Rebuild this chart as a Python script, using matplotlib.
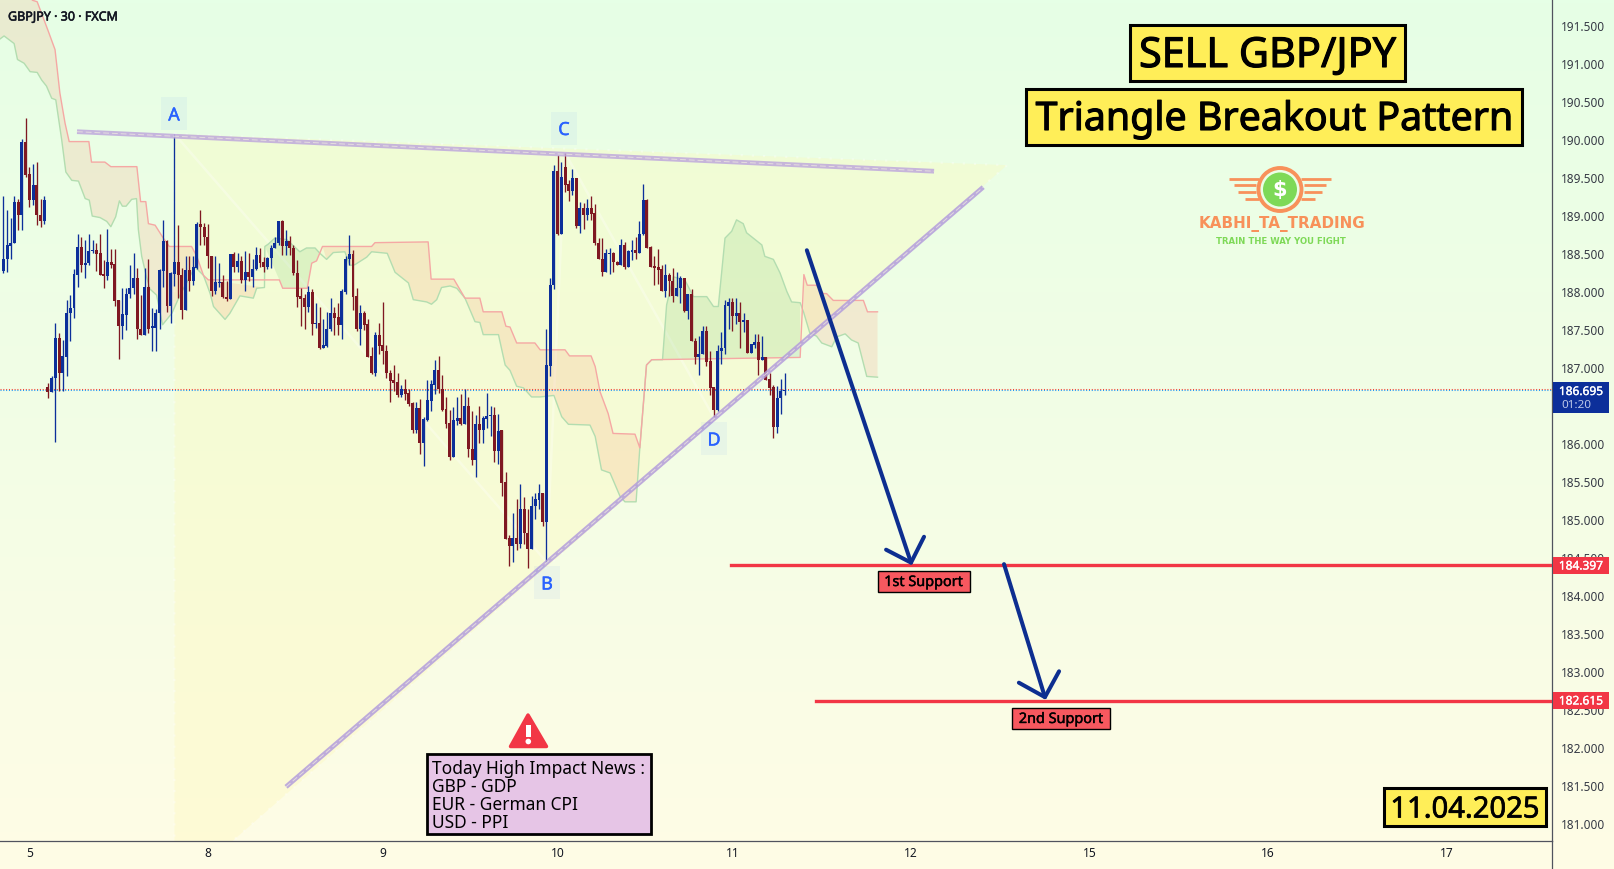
import numpy as np
import matplotlib
matplotlib.use("Agg")
import matplotlib.pyplot as plt
import matplotlib.patheffects as pe
from matplotlib.colors import LinearSegmentedColormap
from matplotlib.patches import Rectangle, Circle, Polygon
from matplotlib.transforms import ScaledTranslation

plt.rcParams['font.family'] = ['Noto Sans', 'DejaVu Sans']

# candles, blue = up, red = down
candle_open = [
    188.27,188.43,188.60,188.64,189.18,189.00,189.96,189.54,189.20,189.40,
    189.00,188.92,186.74,186.68,186.86,187.38,186.93,187.14,187.72,187.78,
    188.22,188.58,188.35,188.37,188.53,188.54,188.50,188.23,188.20,188.39,
    188.36,187.89,187.54,187.69,187.97,188.04,188.18,187.51,187.43,188.05,
    187.52,187.52,187.71,188.27,188.66,187.80,188.23,188.38,188.21,187.75,
    188.28,188.13,188.31,188.89,188.84,188.71,188.46,188.00,188.11,188.12,
    187.93,187.90,188.49,188.32,188.40,188.15,188.25,188.19,188.29,188.48,
    188.39,188.32,188.44,188.57,188.63,188.92,188.60,188.66,188.57,188.24,
    187.94,187.91,187.79,187.99,187.57,187.58,187.25,187.28,187.50,187.71,
    187.66,187.56,187.99,188.43,188.49,187.94,187.50,187.71,187.57,187.15,
    186.93,187.43,187.29,187.21,186.93,186.83,186.80,186.63,186.71,186.66,
    186.53,186.18,186.47,186.01,186.31,186.56,186.77,186.96,186.72,186.45,
    186.27,185.82,186.30,186.33,186.26,186.49,185.93,185.78,186.26,186.18,
    186.32,186.36,186.37,185.90,186.17,185.49,184.75,184.65,184.76,184.68,
    185.14,184.82,184.61,185.17,185.25,185.34,184.97,187.02,188.08,189.58,
    188.76,189.63,189.41,189.32,189.49,188.86,189.09,189.01,189.09,189.03,
    188.63,188.43,188.26,188.49,188.50,188.38,188.35,188.61,188.32,188.52,
    188.54,188.51,188.75,189.20,188.58,188.33,188.32,188.29,188.00,188.21,
    188.14,187.94,188.04,188.18,187.74,187.97,187.34,187.13,187.18,187.48,
    187.08,186.74,186.44,187.21,187.26,187.81,187.86,187.67,187.71,187.59,
    187.62,187.19,187.29,187.33,187.10,187.14,186.84,186.74,186.22,186.59,186.69]
candle_close = [
    188.43,188.61,188.64,189.18,189.00,189.96,189.53,189.20,189.40,189.00,
    188.92,189.20,186.68,186.86,187.38,186.93,187.15,187.72,187.78,188.23,
    188.58,188.35,188.37,188.53,188.54,188.49,188.21,188.20,188.39,188.35,
    187.87,187.54,187.70,187.97,188.04,188.18,187.50,187.43,188.05,187.51,
    187.54,187.71,188.28,188.66,187.80,188.24,188.38,188.21,187.75,188.28,
    188.13,188.32,188.89,188.84,188.71,188.46,188.00,188.12,188.12,187.92,
    187.90,188.49,188.32,188.40,188.15,188.25,188.19,188.29,188.48,188.37,
    188.32,188.44,188.57,188.63,188.92,188.60,188.66,188.57,188.24,187.93,
    187.90,187.79,187.99,187.57,187.58,187.25,187.29,187.51,187.71,187.65,
    187.56,188.00,188.43,188.49,187.93,187.51,187.71,187.56,187.14,186.93,
    187.43,187.28,187.21,186.93,186.82,186.79,186.63,186.71,186.65,186.52,
    186.18,186.47,186.01,186.32,186.57,186.78,186.96,186.72,186.44,186.26,
    185.82,186.31,186.33,186.26,186.49,185.93,185.78,186.26,186.18,186.33,
    186.36,186.37,185.90,186.16,185.48,184.74,184.65,184.76,184.68,185.14,
    184.82,184.61,185.18,185.27,185.34,184.97,187.03,188.08,189.58,188.75,
    189.51,189.40,189.32,189.49,188.86,189.09,189.01,189.09,189.02,188.63,
    188.43,188.26,188.50,188.50,188.38,188.35,188.61,188.32,188.53,188.54,
    188.51,188.76,189.20,188.57,188.32,188.31,188.28,188.00,188.21,188.13,
    187.94,188.04,188.17,187.74,187.97,187.34,187.13,187.18,187.48,187.07,
    186.73,186.44,187.21,187.26,187.82,187.86,187.67,187.71,187.60,187.62,
    187.19,187.30,187.33,187.10,187.14,186.83,186.73,186.22,186.59,186.69,186.70]
candle_high = [
    189.25,189.07,188.96,189.25,189.22,190.01,190.28,189.64,189.68,189.70,
    189.22,189.25,186.79,186.88,187.58,187.45,187.36,187.89,187.95,188.29,
    188.76,188.71,188.68,188.75,188.68,188.63,188.76,188.41,188.82,188.56,
    188.55,187.89,188.04,188.04,188.35,188.50,188.30,187.95,188.30,188.43,
    187.78,187.77,188.29,188.94,188.68,188.26,190.07,188.87,188.30,188.46,
    188.46,188.46,188.91,189.07,188.90,188.89,188.46,188.46,188.37,188.22,
    188.13,188.49,188.52,188.51,188.46,188.53,188.50,188.42,188.58,188.57,
    188.45,188.45,188.61,188.71,188.92,188.94,188.81,188.73,188.61,188.41,
    188.04,187.97,188.07,188.03,187.84,187.79,187.63,187.73,187.91,187.79,
    187.84,188.03,188.46,188.74,188.54,188.04,187.82,187.74,187.64,187.27,
    187.47,187.58,187.86,187.29,186.97,187.03,186.92,186.77,186.85,186.72,
    186.55,186.55,186.58,186.35,186.83,186.83,187.10,187.15,186.90,186.61,
    186.44,186.48,186.61,186.65,186.71,186.61,186.42,186.37,186.49,186.36,
    186.66,186.49,186.48,186.39,186.17,185.62,184.80,185.08,185.27,185.47,
    185.30,185.14,185.31,185.34,185.46,185.35,187.51,188.18,189.66,189.79,
    189.70,189.82,189.46,189.61,189.49,189.18,189.16,189.22,189.25,189.15,
    188.70,188.70,188.56,188.57,188.52,188.40,188.69,188.65,188.54,188.68,
    188.71,188.93,189.41,189.21,188.59,188.46,188.56,188.35,188.36,188.24,
    188.30,188.25,188.20,188.18,187.97,188.03,187.39,187.41,187.54,187.54,
    187.21,186.74,187.29,187.47,187.89,187.91,187.91,187.91,187.86,187.72,
    187.62,187.30,187.44,187.44,187.41,187.14,186.92,186.77,186.75,186.85,186.92]
candle_low = [
    188.24,188.26,188.42,188.63,188.81,188.80,189.51,189.11,189.14,188.87,
    188.84,188.89,186.60,186.68,186.02,186.69,186.69,186.88,187.34,187.65,
    188.06,188.26,188.18,188.35,188.50,188.27,188.21,188.04,188.15,188.31,
    187.81,187.11,187.37,187.49,187.91,187.97,187.37,187.42,187.43,187.45,
    187.21,187.21,187.51,188.06,187.73,187.58,188.07,187.91,187.64,187.75,
    188.00,188.08,188.29,188.61,188.61,188.31,187.94,187.97,188.05,187.91,
    187.87,187.90,188.25,188.26,188.11,188.01,188.14,188.06,188.28,188.32,
    188.26,188.29,188.30,188.57,188.61,188.48,188.48,188.48,188.21,187.79,
    187.54,187.51,187.73,187.42,187.52,187.24,187.25,187.27,187.48,187.43,
    187.43,187.37,187.96,188.35,187.75,187.48,187.29,187.49,187.13,186.91,
    186.88,187.18,187.05,186.86,186.54,186.69,186.61,186.61,186.57,186.49,
    186.14,186.13,185.86,185.70,186.29,186.42,186.65,186.66,186.42,186.20,
    185.78,185.82,186.24,186.24,186.25,185.82,185.71,185.56,186.00,186.00,
    186.20,186.09,185.76,185.73,185.31,184.74,184.39,184.44,184.59,184.62,
    184.68,184.36,184.61,185.00,185.14,184.91,184.44,186.88,188.03,188.74,
    188.76,189.31,189.19,189.27,188.83,188.77,188.82,188.94,188.94,188.61,
    188.43,188.20,188.25,188.23,188.26,188.35,188.35,188.29,188.32,188.41,
    188.42,188.51,188.74,188.57,188.32,188.08,188.10,188.00,187.93,187.94,
    187.86,187.94,187.85,187.73,187.64,187.34,187.04,186.90,187.18,187.02,
    186.64,186.34,186.42,187.04,187.18,187.50,187.48,187.57,187.26,187.46,
    187.19,187.19,187.26,186.90,187.10,186.83,186.63,186.07,186.13,186.39,186.64]

# ichimoku cloud edges: bar number, price
span_a_x = [-0.9,0.2,2.9,3.8,5.6,7.2,9.1,10.3,11.6,13.0,14.1,15.7,16.8,18.4,20.2,22.0,23.1,23.9,26.0,27.8,
            28.9,30.2,31.2,32.0,33.0,34.5,35.8,36.3,37.2,38.5,39.4,41.2,42.8,45.3,47.5,51.5,53.8,55.6,56.5,59.6,
            60.9,63.6,67.2,68.1,70.2,70.3,71.2,73.0,76.2,79.7,81.5,83.8,85.1,86.9,88.7,91.8,93.2,94.5,97.7,99.0,
            103.2,105.3,108.9,110.2,113.8,115.1,116.5,117.8,120.1,121.9,124.1,126.8,128.1,129.0,133.1,134.9,136.2,138.0,139.8,142.0,
            144.3,148.0,150.1,151.9,157.7,159.1,160.8,163.1,165.8,167.1,170.1,171.1,172.9,174.3,177.2,178.3,180.1,183.2,185.5,189.1,
            190.9,192.2,194.0,195.8,197.1,198.9,199.8,203.9,204.7,207.0,208.8,210.6,211.9,214.2,215.1,216.8,218.6,220.0,222.7,224.0,
            226.3,228.0,229.8,232.1,235.0]
span_a_y = [191.32,191.36,191.26,191.05,191.00,190.89,190.88,190.78,190.70,190.54,190.52,189.99,189.57,189.46,189.45,189.22,189.20,188.99,188.97,188.92,
            188.85,188.98,189.19,189.12,189.12,189.21,189.22,188.81,188.46,188.19,188.03,187.95,187.56,187.71,187.95,188.32,188.21,187.97,187.80,187.63,
            187.71,187.94,187.91,188.04,188.05,188.59,188.62,188.70,188.68,188.52,188.57,188.57,188.50,188.42,188.51,188.52,188.34,188.35,188.45,188.52,
            188.50,188.25,188.11,187.89,187.86,187.83,187.89,188.05,188.07,188.04,187.91,187.60,187.59,187.43,187.43,187.03,186.96,186.75,186.73,186.61,
            186.61,186.63,186.35,186.25,186.24,186.09,185.65,185.61,185.30,185.23,185.23,185.94,187.03,187.10,187.10,187.82,188.19,188.15,187.93,187.93,
            187.80,187.80,188.70,188.79,188.94,188.89,188.77,188.61,188.46,188.42,188.24,188.00,187.86,187.85,187.73,187.45,187.41,187.32,187.27,187.40,
            187.44,187.36,187.32,186.88,186.87]
span_b_x = [-0.9,6.7,7.8,9.1,12.1,13.9,15.2,16.6,17.7,23.0,23.7,27.3,28.9,35.9,36.9,38.3,39.0,40.8,43.0,44.6,
            50.6,52.0,53.8,55.1,74.2,75.1,81.7,82.9,84.2,85.8,99.0,99.9,114.2,115.0,121.1,124.1,128.1,129.0,134.0,135.1,
            136.2,138.0,142.9,144.3,151.0,152.2,158.0,159.1,160.4,162.6,163.9,169.8,171.1,172.9,174.3,214.2,215.2,216.1,218.6,220.4,
            221.3,223.1,231.2,232.3,235.0]
span_b_y = [192.00,191.96,191.83,191.81,191.42,191.18,190.61,190.21,189.97,189.97,189.70,189.70,189.64,189.64,189.18,189.18,188.89,188.87,188.70,188.59,
            188.59,188.46,188.21,188.15,188.15,188.04,188.04,188.37,188.40,188.59,188.59,188.64,188.65,188.16,188.16,187.91,187.91,187.73,187.73,187.54,
            187.53,187.32,187.32,187.23,187.23,187.15,187.15,187.01,186.68,186.39,186.13,186.12,185.94,187.03,187.10,187.13,188.22,188.08,188.08,187.97,
            187.97,187.88,187.88,187.73,187.73]
# (from bar, to bar, colour)
cloud_parts = [(-1, 70.25, '#FF7043'), (70.25, 85.3, '#4CAF50'), (85.3, 171.2, '#FF7043'),
               (171.0, 214.7, '#4CAF50'), (214.7, 236, '#FF7043')]

# 186.500 sits behind the blue price tag in the reference
price_ticks = [181.0,181.5,182.0,182.5,183.0,183.5,184.0,184.5,185.0,185.5,186.0,
               187.0,187.5,188.0,188.5,189.0,189.5,190.0,190.5,191.0,191.5]
day_ticks = [7, 55, 102, 149, 196, 244, 292, 340, 388]
day_labels = ['5', '8', '9', '10', '11', '12', '15', '16', '17']

# drawings
top_line_x = [19.8, 250.2]
top_line_y = [190.10, 189.58]
low_line_x = [76, 263.4]
low_line_y = [181.48, 189.37]
pattern_x = [46, 269.8, 46]
pattern_y = [190.07, 189.66, 180.1]
zig_x = [46, 146, 151, 191]
zig_y = [190.07, 184.44, 189.82, 186.34]
support_1 = 184.397
support_2 = 182.615
support_1_from = 195.6
support_2_from = 218.5
last_price = 186.695
prev_close = 186.72
arrow_1_x = [216, 244]
arrow_1_y = [188.54, 184.43]
head_1_x = [237.3, 244, 247.5]
head_1_y = [184.60, 184.43, 184.77]
arrow_2_x = [269, 280]
arrow_2_y = [184.41, 182.66]
head_2_x = [273, 280, 283.8]
head_2_y = [182.85, 182.66, 183.00]

W, H = 1614, 869
AX_R, AX_B = 1552, 841
BLUE = '#0C2F9A'
RED = '#7F1822'
TAG_RED = '#F23645'

fig = plt.figure(figsize=(W / 100, H / 100), dpi=100)

# page background gradient
bg = fig.add_axes([0, 0, 1, 1], zorder=0)
cmap = LinearSegmentedColormap.from_list('bg', ['#E6FFE6', '#FFFCE5'])
bg.imshow(np.linspace(0, 1, 256)[:, None], aspect='auto', cmap=cmap, extent=[0, 1, 0, 1])
bg.axis('off')

ax = fig.add_axes([0, (H - AX_B) / H, AX_R / W, AX_B / H], zorder=1)
ax.patch.set_alpha(0)
ax.set_xlim((0 - 3.33) / 3.72, (AX_R - 3.33) / 3.72)
ax.set_ylim(187 - (AX_B - 367.3) / 76, 187 + 367.3 / 76)

# triangle pattern shading
ax.add_patch(Polygon(np.column_stack([pattern_x, pattern_y]), closed=True, fc='#FFF8B0', ec='none', alpha=0.3, zorder=1))
ax.plot(pattern_x + pattern_x[:1], pattern_y + pattern_y[:1], color='white', lw=1.6, ls=(0, (1, 4)), alpha=0.35, zorder=1.2)
ax.plot(zig_x, zig_y, color='white', lw=1.8, alpha=0.3, zorder=1.2)

# cloud
a_x, a_y = np.array(span_a_x), np.array(span_a_y)
b_x, b_y = np.array(span_b_x), np.array(span_b_y)
for x0, x1, col in cloud_parts:
    ma = (a_x >= x0) & (a_x <= x1)
    mb = (b_x >= x0) & (b_x <= x1)
    ax.fill(np.r_[a_x[ma], b_x[mb][::-1]], np.r_[a_y[ma], b_y[mb][::-1]], color=col, alpha=0.13, lw=0, zorder=2)
ax.plot(a_x, a_y, color='#B3DDB0', lw=1.0, zorder=2.2)
ax.plot(b_x, b_y, color='#F5A8A4', lw=1.0, zorder=2.2)

# last price / prev close lines
ax.axhline(prev_close, color='#F44336', lw=0.75, ls=(0, (1, 1.7)), zorder=2.4)
ax.axhline(last_price, color='#2196F3', lw=0.75, ls=(0, (1, 1.7)), zorder=2.4)

# candles
o = np.array(candle_open)
c = np.array(candle_close)
bars = np.arange(len(o))
cols = [BLUE if c[i] >= o[i] else RED for i in bars]
ax.vlines(bars, candle_low, candle_high, colors=cols, lw=0.95, zorder=3)
ax.bar(bars, np.maximum(np.abs(c - o), 0.012), bottom=np.minimum(o, c), width=0.8, color=cols, lw=0, zorder=3.1)

# trend lines
for xs, ys, col in [(top_line_x, top_line_y, '#BFA9DC'), (low_line_x, low_line_y, '#B39DDB')]:
    ax.plot(xs, ys, color=col, lw=3.4, alpha=0.85, solid_capstyle='butt', zorder=4)
    ax.plot(xs, ys, color='#F2EEE0', lw=0.7, ls=(0, (6, 3)), alpha=0.7, zorder=4.1)

# support levels
ax.plot([support_1_from, ax.get_xlim()[1]], [support_1, support_1], color=TAG_RED, lw=2.4, zorder=4.5)
ax.plot([support_2_from, ax.get_xlim()[1]], [support_2, support_2], color=TAG_RED, lw=2.4, zorder=4.5)

# arrows
for xs, ys in [(arrow_1_x, arrow_1_y), (head_1_x, head_1_y), (arrow_2_x, arrow_2_y), (head_2_x, head_2_y)]:
    ax.plot(xs, ys, color='#0D2E90', lw=2.9, solid_capstyle='round', solid_joinstyle='round', zorder=5)

# axes
ax.yaxis.tick_right()
ax.set_yticks(price_ticks)
ax.set_yticklabels(['%.3f' % p for p in price_ticks], color='#363A45', fontsize=8.5)
ax.set_xticks(day_ticks)
ax.set_xticklabels(day_labels, color='#131722', fontsize=8.6)
ax.tick_params(axis='y', length=0, pad=6.5)
ax.tick_params(axis='x', length=0, pad=4.5)
shift = ScaledTranslation(0, -1 / 100, fig.dpi_scale_trans)
for lab in ax.get_yticklabels():
    lab.set_transform(lab.get_transform() + shift)
for s in ['top', 'left']:
    ax.spines[s].set_visible(False)
for s in ['right', 'bottom']:
    ax.spines[s].set_color('#50535E')
    ax.spines[s].set_linewidth(0.9)

# overlay in pixels for boxes and logo
ov = fig.add_axes([0, 0, 1, 1], zorder=2)
ov.set_xlim(0, W)
ov.set_ylim(H, 0)
ov.axis('off')
ov.patch.set_alpha(0)
ov.plot([AX_R, AX_R], [AX_B, H], color='#50535E', lw=0.9)

ov.text(8, 17, 'GBPJPY · 30 · FXCM', fontsize=9, color='#131722', va='center', ha='left',
        path_effects=[pe.withStroke(linewidth=0.4, foreground='#131722')])


def box(x0, y0, x1, y1, fc, ec='black', lw=2.2):
    ov.add_patch(Rectangle((x0, y0), x1 - x0, y1 - y0, fc=fc, ec=ec, lw=lw, zorder=5))


def heavy(w):
    return [pe.withStroke(linewidth=w, foreground='black')]


# title boxes
box(1130, 25, 1405, 81, '#FFEE58')
ov.text(1267.5, 56, 'SELL GBP/JPY', fontsize=29.8, ha='center', va='center', color='black', zorder=6, path_effects=heavy(0.8))
box(1026, 89, 1522, 145, '#FFEE58')
ov.text(1274, 120, 'Triangle Breakout Pattern', fontsize=28.3, ha='center', va='center', color='black', zorder=6, path_effects=heavy(0.8))
box(1384, 788, 1546, 826, '#FFEE58')
ov.text(1465, 810, '11.04.2025', fontsize=21, ha='center', va='center', color='black', zorder=6, path_effects=heavy(0.5))

# logo
ov.add_patch(Circle((1280, 189.5), 21.5, fc='none', ec='#F8915A', lw=2.8, zorder=3))
ov.add_patch(Circle((1280, 189.5), 17, fc='#7ED957', ec='none', zorder=3))
ov.text(1280, 190, '$', fontsize=15, weight='bold', color='white', ha='center', va='center', zorder=4, family='DejaVu Sans')
for yy, xl, xr in [(179, 1229, 1259), (185, 1234, 1256), (191.5, 1238, 1256), (198.5, 1245, 1259)]:
    ov.plot([xl, xr], [yy, yy], color='#F8915A', lw=2.0, solid_capstyle='butt', zorder=3)
    ov.plot([2560 - xl, 2560 - xr], [yy, yy], color='#F8915A', lw=2.0, solid_capstyle='butt', zorder=3)
ov.text(1282, 224, 'KABHI_TA_TRADING', fontsize=10.9, weight='bold', color='#F8915A', ha='center', va='center', family='DejaVu Sans')
ov.text(1280.5, 241, 'TRAIN THE WAY YOU FIGHT', fontsize=6.1, weight='bold', color='#7ED957', ha='center', va='center', family='DejaVu Sans')

# ABCD letters
for letter, lx, ly in [('A', 174, 114), ('B', 547, 583), ('C', 564, 128.5), ('D', 714, 439)]:
    ov.add_patch(Rectangle((lx - 13, ly - 17), 26, 33, fc='#2962FF', ec='none', alpha=0.05, zorder=5))
    ov.text(lx, ly + 1.5, letter, fontsize=13, color='#2962FF', ha='center', va='center', zorder=6,
            path_effects=[pe.withStroke(linewidth=0.3, foreground='#2962FF')])

# support tags
box(877.5, 570.5, 970, 592, '#F7585F', lw=1.0)
ov.text(923.5, 582.5, '1st Support', fontsize=10.4, ha='center', va='center', color='black', zorder=6,
        path_effects=heavy(0.3))
box(1011.5, 707.5, 1110, 729, '#F7585F', lw=1.0)
ov.text(1061, 719.5, '2nd Support', fontsize=10.4, ha='center', va='center', color='black', zorder=6,
        path_effects=heavy(0.3))

# price tags on the axis
tag_stroke = [pe.withStroke(linewidth=0.25, foreground='white')]
ov.add_patch(Rectangle((1553, 382), 56, 31, fc=BLUE, ec='none', zorder=5))
ov.text(1581, 391.5, '186.695', fontsize=8.6, weight='bold', color='white', ha='center', va='center', zorder=6, path_effects=tag_stroke)
ov.text(1561, 405.5, '01:20', fontsize=8.4, color='#BCC7E8', ha='left', va='center', zorder=6)
ov.add_patch(Rectangle((1553, 557), 56, 17, fc=TAG_RED, ec='none', zorder=5))
ov.text(1581, 566, '184.397', fontsize=8.6, weight='bold', color='white', ha='center', va='center', zorder=6, path_effects=tag_stroke)
ov.add_patch(Rectangle((1553, 692), 56, 17, fc=TAG_RED, ec='none', zorder=5))
ov.text(1581, 701, '182.615', fontsize=8.6, weight='bold', color='white', ha='center', va='center', zorder=6, path_effects=tag_stroke)

# warning sign and news box
ov.add_patch(Polygon([(528, 715), (510.5, 746.5), (546.5, 746.5)], closed=True, fc=TAG_RED, ec=TAG_RED, lw=2.5, joinstyle='round', zorder=5))
ov.add_patch(Rectangle((526, 725), 4.5, 12, fc='white', ec='none', zorder=6))
ov.add_patch(Circle((528.3, 741.5), 2.8, fc='white', ec='none', zorder=6))
box(427, 754, 651, 834, '#E6C5E6', lw=2.0)
news_lines = ['Today High Impact News :', 'GBP - GDP', 'EUR - German CPI', 'USD - PPI']
for i, line in enumerate(news_lines):
    ov.text(432, 768.5 + 18 * i, line, fontsize=12.5, ha='left', va='center', color='black', zorder=6)

fig.savefig('out.png', dpi=100)
